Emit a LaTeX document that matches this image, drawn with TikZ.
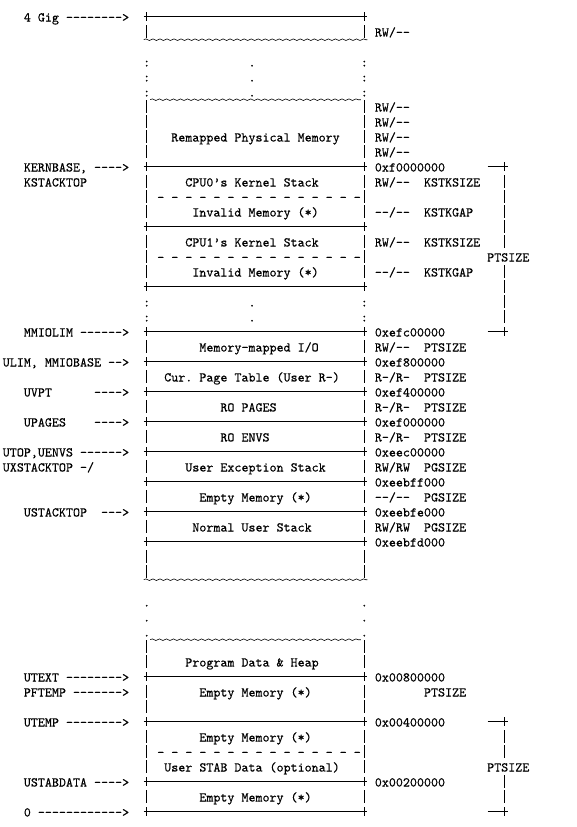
\documentclass[tikz,border=0pt]{standalone}
\usepackage{fontspec}
\usetikzlibrary{decorations.pathmorphing}
\newfontfamily\monofam[Ligatures=TeXOff,FakeBold=0.3]{lmmono10-regular.otf}

% character grid: 7.02pt per column, 15pt per row
\newcommand\colL[1]{(2.8+7.02*(#1))}
\newcommand\colM[1]{(6.31+7.02*(#1))}
\newcommand\rowM[1]{(16.7+15*((#1)-1))}
\newcommand\rowB[1]{(21.5+15*((#1)-1))}
\newcommand\putText[4]{\node[mtext] (#1) at ({\colL{#2}},{\rowB{#3}}) {#4};}

\begin{document}
\begin{tikzpicture}[x=1pt,y=-1pt,
  mtext/.style={anchor=base west,inner sep=0pt,outer sep=0pt,
    font=\monofam\fontsize{13.37}{15}\selectfont},
  rule/.style={line width=0.85pt},
  wave/.style={line width=0.6pt,decorate,
    decoration={snake,segment length=7.02pt,amplitude=0.8pt}}]
\useasboundingbox (0,0) rectangle (576,827);

% ---------- frame of the address space ----------
\foreach \r in {1,11,15,19,22,24,26,28,30,32,34,36,45,48,52,54}{
  \draw[rule] ({\colL{20}+0.5},{\rowM{\r}}) -- ({\colL{52}-0.5},{\rowM{\r}});
  \draw[rule] ({\colM{20}},{\rowM{\r}-4.5}) -- ++(0,9);
  \draw[rule] ({\colM{51}},{\rowM{\r}-4.5}) -- ++(0,9);
}
\foreach \r in {2,7,8,9,10,12,13,14,16,17,18,23,25,27,29,31,33,35,37,38,43,44,46,47,49,50,51,53}{
  \draw[rule] ({\colM{20}},{\rowM{\r}-6.3}) -- ++(0,12.8);
  \draw[rule] ({\colM{51}},{\rowM{\r}-6.3}) -- ++(0,12.8);
}
% elided regions
\draw[wave] ({\colL{20}+0.5},{\rowM{3}-7}) -- ({\colL{52}-0.5},{\rowM{3}-7});
\draw[wave] ({\colL{21}},{\rowM{7}-7}) -- ({\colL{51}},{\rowM{7}-7});
\draw[wave] ({\colL{20}+0.5},{\rowM{39}-7}) -- ({\colL{52}-0.5},{\rowM{39}-7});
\draw[wave] ({\colL{21}},{\rowM{43}-7}) -- ({\colL{51}},{\rowM{43}-7});
\foreach \r in {4,5,6,20,21}{
  \node[mtext] (gapl-\r) at ({\colL{20}},{\rowB{\r}}) {:};
  \node[mtext] (gapm-\r) at ({\colL{35}},{\rowB{\r}}) {.};
  \node[mtext] (gapr-\r) at ({\colL{51}},{\rowB{\r}}) {:};
}
\foreach \r in {40,41,42}{
  \node[mtext] (dotl-\r) at ({\colL{20}},{\rowB{\r}}) {.};
  \node[mtext] (dotr-\r) at ({\colL{51}},{\rowB{\r}}) {.};
}
% dashed sub-dividers
\putText{split0}{22}{13}{-~-~-~-~-~-~-~-~-~-~-~-~-~-~-}
\putText{split1}{22}{17}{-~-~-~-~-~-~-~-~-~-~-~-~-~-~-}
\putText{split2}{22}{50}{-~-~-~-~-~-~-~-~-~-~-~-~-~-~-}

% ---------- PTSIZE brackets ----------
\foreach \r in {11,22,48,54}{
  \draw[rule] ({\colL{69}+0.5},{\rowM{\r}}) -- ({\colL{72}-0.5},{\rowM{\r}});
  \draw[rule] ({\colM{71}},{\rowM{\r}-4.5}) -- ++(0,9);
}
\foreach \r in {12,13,14,15,16,18,19,20,21,49,50,52,53}{
  \draw[rule] ({\colM{71}},{\rowM{\r}-6.3}) -- ++(0,12.8);
}
\putText{brk0}{69}{17}{PTSIZE}
\putText{brk1}{69}{51}{PTSIZE}

% ---------- symbolic addresses ----------
\putText{lab4gig}{3}{1}{4~Gig~-------->}
\putText{labkernbase}{3}{11}{KERNBASE,~---->}
\putText{labkstacktop}{3}{12}{KSTACKTOP}
\putText{labmmiolim}{3}{22}{MMIOLIM~------>}
\putText{labulim}{0}{24}{ULIM,~MMIOBASE~-->}
\putText{labuvpt}{3}{26}{UVPT~~~~~~---->}
\putText{labupages}{3}{28}{UPAGES~~~~---->}
\putText{labutop}{0}{30}{UTOP,UENVS~------>}
\putText{labuxstacktop}{0}{31}{UXSTACKTOP~-/}
\putText{labustacktop}{3}{34}{USTACKTOP~~--->}
\putText{labutext}{3}{45}{UTEXT~-------->}
\putText{labpftemp}{3}{46}{PFTEMP~------->}
\putText{labutemp}{3}{48}{UTEMP~-------->}
\putText{labustabdata}{3}{52}{USTABDATA~---->}
\putText{labzero}{3}{54}{0~------------>}

% ---------- regions ----------
\putText{regremap}{24}{9}{Remapped~Physical~Memory}
\putText{regcpu0}{26}{12}{CPU0’s~Kernel~Stack}
\putText{reginv0}{27}{14}{Invalid~Memory~(*)}
\putText{regcpu1}{26}{16}{CPU1’s~Kernel~Stack}
\putText{reginv1}{27}{18}{Invalid~Memory~(*)}
\putText{regmmio}{28}{23}{Memory-mapped~I/O}
\putText{reguvpt}{23}{25}{Cur.~Page~Table~(User~R-)}
\putText{regpages}{31}{27}{RO~PAGES}
\putText{regenvs}{31}{29}{RO~ENVS}
\putText{reguxstack}{26}{31}{User~Exception~Stack}
\putText{regempty1}{28}{33}{Empty~Memory~(*)}
\putText{regustack}{27}{35}{Normal~User~Stack}
\putText{regheap}{26}{44}{Program~Data~\&~Heap}
\putText{regempty2}{28}{46}{Empty~Memory~(*)}
\putText{regempty3}{28}{49}{Empty~Memory~(*)}
\putText{regstab}{23}{51}{User~STAB~Data~(optional)}
\putText{regempty4}{28}{53}{Empty~Memory~(*)}

% ---------- permissions and sizes ----------
\putText{perm2}{53}{2}{RW/--}
\putText{perm7}{53}{7}{RW/--}
\putText{perm8}{53}{8}{RW/--}
\putText{perm9}{53}{9}{RW/--}
\putText{perm10}{53}{10}{RW/--}
\putText{perm12}{53}{12}{RW/--}
\putText{size12}{60}{12}{KSTKSIZE}
\putText{perm14}{53}{14}{--/--}
\putText{size14}{60}{14}{KSTKGAP}
\putText{perm16}{53}{16}{RW/--}
\putText{size16}{60}{16}{KSTKSIZE}
\putText{perm18}{53}{18}{--/--}
\putText{size18}{60}{18}{KSTKGAP}
\putText{perm23}{53}{23}{RW/--}
\putText{size23}{60}{23}{PTSIZE}
\putText{perm25}{53}{25}{R-/R-}
\putText{size25}{60}{25}{PTSIZE}
\putText{perm27}{53}{27}{R-/R-}
\putText{size27}{60}{27}{PTSIZE}
\putText{perm29}{53}{29}{R-/R-}
\putText{size29}{60}{29}{PTSIZE}
\putText{perm31}{53}{31}{RW/RW}
\putText{size31}{60}{31}{PGSIZE}
\putText{perm33}{53}{33}{--/--}
\putText{size33}{60}{33}{PGSIZE}
\putText{perm35}{53}{35}{RW/RW}
\putText{size35}{60}{35}{PGSIZE}
\putText{size46}{60}{46}{PTSIZE}

% ---------- numeric addresses ----------
\putText{addr11}{53}{11}{0xf0000000}
\putText{addr22}{53}{22}{0xefc00000}
\putText{addr24}{53}{24}{0xef800000}
\putText{addr26}{53}{26}{0xef400000}
\putText{addr28}{53}{28}{0xef000000}
\putText{addr30}{53}{30}{0xeec00000}
\putText{addr32}{53}{32}{0xeebff000}
\putText{addr34}{53}{34}{0xeebfe000}
\putText{addr36}{53}{36}{0xeebfd000}
\putText{addr45}{53}{45}{0x00800000}
\putText{addr48}{53}{48}{0x00400000}
\putText{addr52}{53}{52}{0x00200000}
\end{tikzpicture}
\end{document}
